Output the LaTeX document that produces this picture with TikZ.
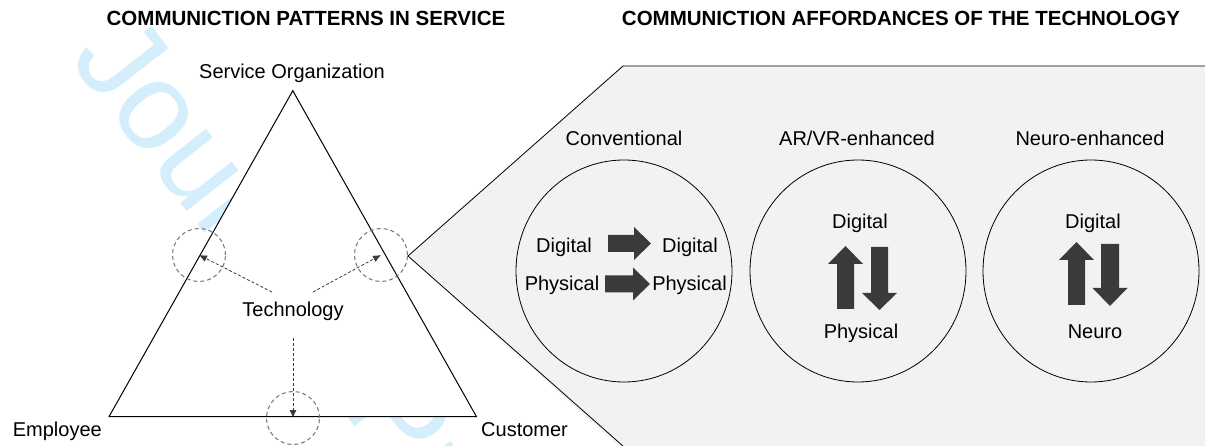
\documentclass[tikz,border=0pt]{standalone}
\usepackage{fontspec}
\setmainfont{Liberation Sans}
\usetikzlibrary{shapes.geometric,arrows.meta}
\definecolor{wm}{RGB}{212,238,251}
\definecolor{panel}{RGB}{242,242,242}
\definecolor{dgray}{RGB}{58,58,58}
\definecolor{cgray}{RGB}{115,115,115}
\begin{document}
\begin{tikzpicture}[x=1pt,y=-1pt,
  lab/.style={font=\fontsize{20}{24}\selectfont, inner sep=0pt, anchor=base},
  ttl/.style={font=\bfseries\fontsize{20.5}{24}\selectfont, inner sep=0pt, anchor=base},
  ring/.style={draw=cgray, dash pattern=on 4pt off 3pt, line width=1pt, circle, minimum size=53pt, inner sep=0pt},
  techarrow/.style={draw=dgray, line width=0.8pt, dash pattern=on 3pt off 2pt, -{Latex[length=8pt,width=7pt]}},
  bubble/.style={draw=black, line width=0.8pt, ellipse, minimum width=216pt, minimum height=222pt, inner sep=0pt},
  bigarrow/.style={fill=dgray}
]
\useasboundingbox (0,0) rectangle (1205,446);
\fill[white] (0,0) rectangle (1205,446);
% watermark
\node[text=wm, font=\fontsize{125}{125}\selectfont, rotate=-52, anchor=base west, inner sep=0pt] (wmk) at (68,59) {Journal Pre-proof};
% titles
\node[ttl] (t1) at (306,26) {COMMUNICTION PATTERNS IN SERVICE};
\node[ttl] (t2) at (901,26) {COMMUNICTION AFFORDANCES OF THE TECHNOLOGY};
% triangle
\coordinate (apex) at (292.8,90.7);
\coordinate (bl) at (109,416.7);
\coordinate (br) at (476.5,416.7);
\filldraw[fill=white, draw=black, line width=1pt] (apex) -- (bl) -- (br) -- cycle;
\node[lab] (org) at (292,79) {Service Organization};
\node[lab, anchor=base east] (emp) at (102,436) {Employee};
\node[lab, anchor=base west] (cus) at (481,436) {Customer};
% panel
\fill[panel] (623,66) -- (1210,66) -- (1210,450) -- (623,450) -- (408,256) -- cycle;
\draw[line width=0.8pt] (1210,66) -- (623,66) -- (408,256) -- (623.5,446.5);
% rings
\node[ring] (rl) at (199,255) {};
\node[ring] (rr) at (381,255) {};
\node[ring] (rb) at (293,418) {};
% technology
\node[lab] (tech) at (293,317) {Technology};
\coordinate (tl) at (272,292);
\coordinate (tr) at (313,292);
\coordinate (tb) at (293,338);
\draw[techarrow] (tl) -- (rl.center);
\draw[techarrow] (tr) -- (rr.center);
\draw[techarrow] (tb) -- (rb.center);
% bubbles
\node[lab] (h1) at (624,146) {Conventional};
\node[lab] (h2) at (857,146) {AR/VR-enhanced};
\node[lab] (h3) at (1090,146) {Neuro-enhanced};
\node[bubble] (c1) at (624,271) {};
\node[bubble] (c2) at (858,271) {};
\node[bubble] (c3) at (1091,271) {};
% conventional content
\node[lab] (d1) at (564,253) {Digital};
\node[lab] (d2) at (690,253) {Digital};
\node[lab] (p1) at (562,291) {Physical};
\node[lab] (p2) at (689.5,291) {Physical};
\fill[bigarrow] (608,235) -- (634,235) -- (634,227) -- (651,243.5) -- (634,260) -- (634,252) -- (608,252) -- cycle;
\fill[bigarrow] (605,275.5) -- (633,275.5) -- (633,267.5) -- (650,284) -- (633,300.5) -- (633,292.5) -- (605,292.5) -- cycle;
% AR/VR content
\node[lab] (d3) at (860,229) {Digital};
\node[lab] (p3) at (861,338) {Physical};
\fill[bigarrow] (837,309) -- (837,264) -- (828,264) -- (845.5,246) -- (863,264) -- (854,264) -- (854,309) -- cycle;
\fill[bigarrow] (871,247) -- (888,247) -- (888,293) -- (897,293) -- (879.5,310) -- (862,293) -- (871,293) -- cycle;
% Neuro content
\node[lab] (d4) at (1093,229) {Digital};
\node[lab] (n4) at (1095,338) {Neuro};
\fill[bigarrow] (1068,305) -- (1068,260) -- (1059,260) -- (1076.5,242) -- (1094,260) -- (1085,260) -- (1085,305) -- cycle;
\fill[bigarrow] (1101,244) -- (1119,244) -- (1119,288) -- (1127.5,288) -- (1110,306) -- (1092.5,288) -- (1101,288) -- cycle;
\end{tikzpicture}
\end{document}
